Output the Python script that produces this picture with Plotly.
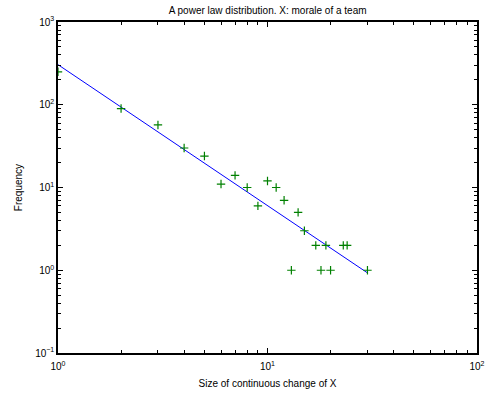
import plotly.graph_objects as go

# Observed data (size of change, frequency)
sizes = [1, 2, 3, 4, 5, 6, 7, 8, 9, 10, 11, 12, 13, 14, 15, 17, 18, 19, 20, 23, 24, 30]
freqs = [250, 90, 57, 30, 24, 11, 14, 10, 6, 12, 10, 7, 1, 5, 3, 2, 1, 2, 1, 2, 2, 1]

# Fitted power-law line endpoints
fit_x = [1, 30]
fit_y = [305, 0.93]

x_ticks = [1, 10, 100]
x_ticktext = ["10<sup>0</sup>", "10<sup>1</sup>", "10<sup>2</sup>"]
y_ticks = [0.1, 1, 10, 100, 1000]
y_ticktext = ["10<sup>−1</sup>", "10<sup>0</sup>", "10<sup>1</sup>", "10<sup>2</sup>", "10<sup>3</sup>"]

def minors(lo, hi):
    out = []
    for e in range(lo, hi):
        for d in range(2, 10):
            out.append(d * 10 ** e)
    return out

fig = go.Figure()
fig.add_trace(go.Scatter(x=fit_x, y=fit_y, mode="lines",
                         line=dict(color="rgb(0,0,255)", width=1), showlegend=False))
fig.add_trace(go.Scatter(x=sizes, y=freqs, mode="markers",
                         marker=dict(symbol="cross-thin", size=6, color="rgb(0,128,0)",
                                     line=dict(color="rgb(0,128,0)", width=1.2)),
                         showlegend=False))

axis_common = dict(
    type="log", showgrid=False, zeroline=False, showline=True, linecolor="black",
    linewidth=1.5, mirror="allticks", ticks="inside", ticklen=5, tickcolor="black",
    tickfont=dict(size=10, color="black"), tickmode="array", automargin=False,
)
fig.update_xaxes(**axis_common, range=[0, 2], tickvals=x_ticks, ticktext=x_ticktext,
                 ticklabelstandoff=3,
                 minor=dict(ticks="inside", ticklen=3, tickcolor="black",
                            tickmode="array", tickvals=minors(0, 2)),
                 title=dict(text="Size of continuous change of X", font=dict(size=10, color="black"), standoff=9))
fig.update_yaxes(**axis_common, range=[-1, 3], tickvals=y_ticks, ticktext=y_ticktext,
                 minor=dict(ticks="inside", ticklen=3, tickcolor="black",
                            tickmode="array", tickvals=minors(-1, 3)),
                 title=dict(text="Frequency", font=dict(size=10, color="black"), standoff=11))

fig.update_layout(
    width=491, height=397,
    margin=dict(l=58, r=14, t=22, b=44),
    paper_bgcolor="white", plot_bgcolor="white",
    font=dict(family="Liberation Sans, Arial, sans-serif", size=10, color="black"),
    title=dict(text="A power law distribution. X: morale of a team", x=0.545, xanchor="center",
               y=0.982, yanchor="top", font=dict(size=10, color="black")),
)

fig.write_html("out.html")
